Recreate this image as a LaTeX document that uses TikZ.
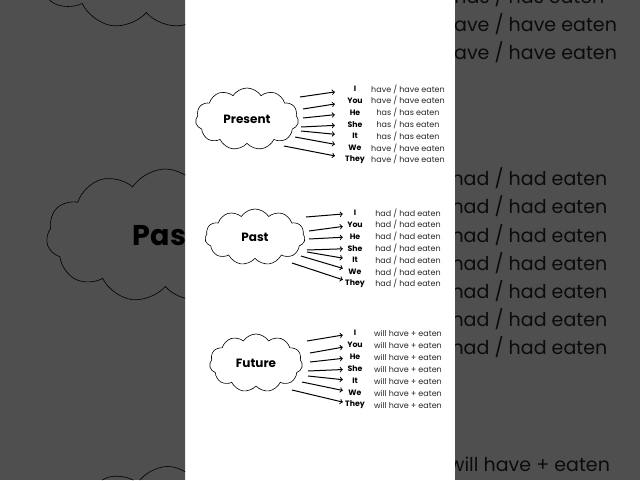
\documentclass[tikz,border=0pt]{standalone}
\usepackage{fontspec}
\setmainfont{Poppins}
\usetikzlibrary{shapes.symbols}

\tikzset{
	tense/.style={cloud, draw, cloud puffs=11, cloud puff arc=115, cloud ignores aspect, inner sep=0pt, line width=0.6pt, font=\bfseries\fontsize{12}{14}\selectfont},
	pron/.style={inner sep=0pt, minimum width=24pt, minimum height=8pt, font=\bfseries\fontsize{7.8}{9}\selectfont},
	verb/.style={inner sep=0pt, font=\fontsize{8}{9}\selectfont, text=black!85},
	pointer/.style={->, line width=1pt},
}

\newif\ifsidecopy

% the three clouds with their rows
\newcommand{\tensechart}{%
	% present
	\node[tense, minimum width=103pt, minimum height=62pt] (present) at (247,119) {Present};
	\foreach \v [count=\k from 0] in {{have / have eaten},{have / have eaten},{has / has eaten},{has / has eaten},{has / has eaten},{have / have eaten},{have / have eaten}}
		\node[verb] (present-v\k) at (408,89+11.8*\k) {\v};
	\ifsidecopy\else
	\foreach \p [count=\k from 0] in {I,You,He,She,It,We,They}
		\node[pron] (present-p\k) at (355,89+11.8*\k) {\p};
	\foreach \x/\y [count=\k from 0] in {300/97,303/109,303/118,301/127,301/131,295/137,284/146}{
		\coordinate (present-s\k) at (\x,\y);
		\draw[pointer, shorten >=8pt] (present-s\k) -- (present-p\k);
	}
	\fi
	% past
	\node[tense, minimum width=100pt, minimum height=56pt] (past) at (255,237) {Past};
	\foreach \k in {0,...,6}
		\node[verb] (past-v\k) at (408,213+11.8*\k) {had / had eaten};
	\ifsidecopy\else
	\foreach \p [count=\k from 0] in {I,You,He,She,It,We,They}
		\node[pron] (past-p\k) at (355,213+11.8*\k) {\p};
	\foreach \x/\y [count=\k from 0] in {306/217,309/231,309/239,307/250,307/252,301/256,292/263}{
		\coordinate (past-s\k) at (\x,\y);
		\draw[pointer] (past-s\k) -- (past-p\k);
	}
	\fi
	% future
	\node[tense, minimum width=93pt, minimum height=58pt] (future) at (256,363) {Future};
	\foreach \k in {0,...,6}
		\node[verb] (future-v\k) at (408,333+12*\k) {will have + eaten};
	\ifsidecopy\else
	\foreach \p [count=\k from 0] in {I,You,He,She,It,We,They}
		\node[pron] (future-p\k) at (355,333+12*\k) {\p};
	\foreach \x/\y [count=\k from 0] in {307/341,310/353,310/362,308/371,308/376,302/382,292/390}{
		\coordinate (future-s\k) at (\x,\y);
		\draw[pointer] (future-s\k) -- (future-p\k);
	}
	\fi
}

\begin{document}
\begin{tikzpicture}[x=1pt, y=-1pt]
	\useasboundingbox (0,0) rectangle (640,480);
	\fill[white] (0,0) rectangle (640,480);
	% enlarged, dimmed copy at the sides
	\begin{scope}
		\clip (0,0) rectangle (185,480) (455,0) rectangle (640,480);
		\begin{scope}[shift={(320,238)}, scale=2.38, transform shape, shift={(-320,-238)}]
			\sidecopytrue
			\tensechart
			\sidecopyfalse
		\end{scope}
		\fill[black, opacity=0.69] (0,0) rectangle (640,480);
	\end{scope}
	% the chart itself
	\tensechart
\end{tikzpicture}
\end{document}
